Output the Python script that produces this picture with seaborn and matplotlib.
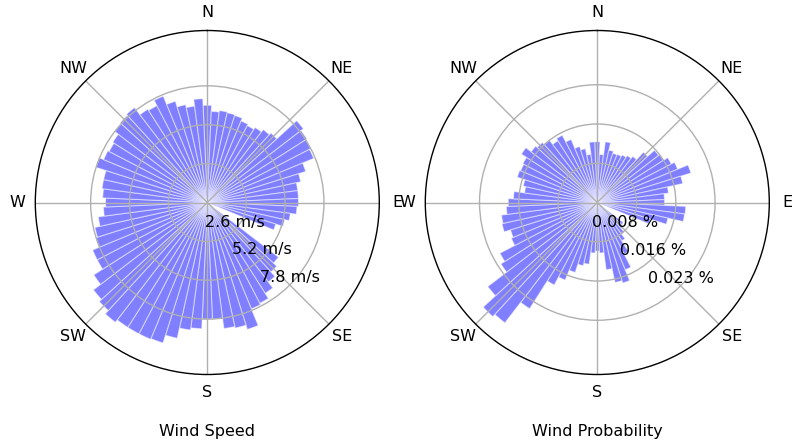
import numpy as np
import matplotlib
matplotlib.use("Agg")
import matplotlib.pyplot as plt
import seaborn as sns

# ---- data ----
directions_deg = list(range(0, 360, 5))
compass_labels = ["N", "NE", "E", "SE", "S", "SW", "W", "NW"]
compass_deg = [0, 45, 90, 135, 180, 225, 270, 315]

wind_speed = [
    6.5, 6.1, 6.2, 6.15, 6.1, 5.9, 5.8, 5.95, 6.15, 6.3,
    8.1, 7.9, 7.8, 7.7, 6.9, 6.4, 6.1, 6.1, 6.1, 6.0,
    5.6, 5.3, 4.8, 0.0, 0.0, 0.0, 6.0, 6.3, 6.7, 7.2,
    7.6, 7.7, 8.9, 8.6, 8.5, 7.8, 7.8, 8.45, 8.6, 9.3,
    9.85, 9.9, 9.9, 9.9, 10.1, 9.8, 9.6, 9.0, 8.3, 8.3,
    7.8, 7.7, 7.35, 6.95, 6.8, 7.0, 7.1, 7.1, 7.8, 7.5,
    7.4, 7.5, 7.8, 7.9, 8.0, 7.4, 7.3, 7.7, 7.1, 6.7,
    6.5, 6.95,
]

wind_prob = [
    0.0120, 0.0095, 0.0121, 0.0106, 0.0102, 0.0103, 0.0106, 0.0110, 0.0115, 0.0135,
    0.0153, 0.0155, 0.0165, 0.0172, 0.0194, 0.0173, 0.0142, 0.0133, 0.0133, 0.0175,
    0.0174, 0.0143, 0.0110, 0.0000, 0.0000, 0.0000, 0.0065, 0.0070, 0.0079, 0.0090,
    0.0115, 0.0144, 0.0167, 0.0162, 0.0134, 0.0100, 0.0096, 0.0100, 0.0123, 0.0128,
    0.0145, 0.0166, 0.0184, 0.0249, 0.0300, 0.0306, 0.0273, 0.0226, 0.0217, 0.0184,
    0.0180, 0.0193, 0.0191, 0.0180, 0.0176, 0.0166, 0.0145, 0.0150, 0.0166, 0.0164,
    0.0166, 0.0178, 0.0165, 0.0161, 0.0155, 0.0145, 0.0150, 0.0135, 0.0116, 0.0109,
    0.0096, 0.0120,
]

speed_ticks = [2.6, 5.2, 7.8]
speed_max = 11.5
prob_ticks = [0.00776, 0.01552, 0.02328]
prob_max = 0.0340

# ---- style ----
FS = 11.5
sns.set_theme(style="whitegrid", rc={
    "axes.edgecolor": "black",
    "axes.linewidth": 1.0,
    "grid.color": "#b0b0b0",
    "grid.linewidth": 1.0,
    "font.size": FS,
    "xtick.labelsize": FS,
    "ytick.labelsize": FS,
    "axes.labelsize": FS,
    "axes.axisbelow": "line",
    "text.color": "black",
    "xtick.color": "black",
    "ytick.color": "black",
    "axes.labelcolor": "black",
    "xtick.major.size": 3.5,
    "xtick.major.pad": 2.5,
})
plt.rcParams["font.family"] = ["DejaVu Sans"]

bar_color = sns.color_palette(["#0000ff"])[0]

fig = plt.figure(figsize=(7.92, 4.42), dpi=100)

W, H = 792, 442
R = 172.0


def make_ax(cx, cy):
    pos = [(cx - R) / W, (H - (cy + R)) / H, 2 * R / W, 2 * R / H]
    return fig.add_axes(pos, projection="polar")


def draw(ax, values, ticks, rmax, fmt, title):
    theta = np.deg2rad(directions_deg)
    ax.set_theta_zero_location("N")
    ax.set_theta_direction(-1)
    ax.bar(theta, values, width=np.deg2rad(5), color=bar_color, alpha=0.5,
           edgecolor="white", linewidth=0.8, align="center")
    ax.set_ylim(0, rmax)
    ax.set_xticks(np.deg2rad(compass_deg))
    ax.set_xticklabels(compass_labels)
    ax.set_yticks(ticks)
    ax.set_yticklabels([fmt.format(t) for t in ticks])
    ax.set_rlabel_position(135)
    plt.setp(ax.get_yticklabels(), ha="center")
    ax.grid(True)
    ax.set_xlabel(title, labelpad=17)


ax1 = make_ax(207.3, 202.5)
draw(ax1, wind_speed, speed_ticks, speed_max, "{:.1f} m/s", "Wind Speed")
ax2 = make_ax(597.3, 202.5)
draw(ax2, wind_prob, prob_ticks, prob_max, "{:.3f} %", "Wind Probability")

fig.savefig("out.png", dpi=100)
